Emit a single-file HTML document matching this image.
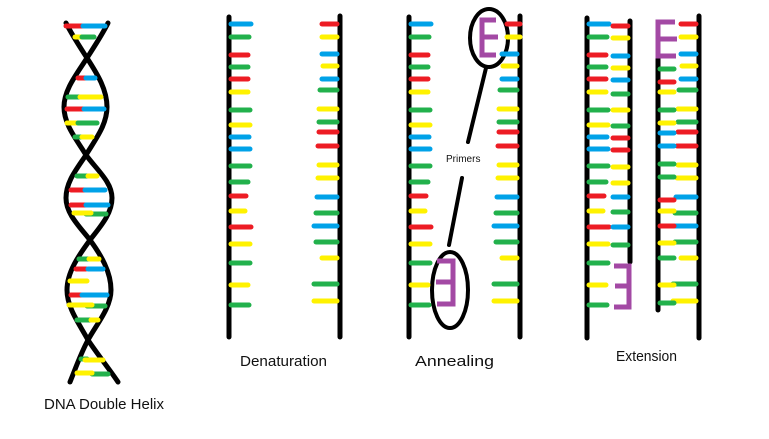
<!DOCTYPE html>
<html><head><meta charset="utf-8"><style>
html,body{margin:0;padding:0;background:#fff;}
svg{display:block;}
text{font-family:"Liberation Sans",sans-serif;fill:#111;}
</style></head><body>
<svg id="s" width="769" height="439" viewBox="0 0 769 439" xmlns="http://www.w3.org/2000/svg">
<g fill="none" stroke="#000" stroke-width="5" stroke-linecap="round">
<path d="M66 23 C72 35 80 47 87 58 C98 75 107 90 107 107 C107 125 95 140 86 155 C76 170 66 182 66 198 C66 214 80 227 90 240 C101 255 111 272 111 290 C111 308 96 325 88 340 C98 355 110 370 118 382"/>
<path d="M108 23 C102 35 94 47 87 58 C76 75 64 90 64 107 C64 125 77 140 86 155 C97 170 112 182 112 198 C112 214 100 227 90 240 C79 255 67 272 67 290 C67 308 80 325 88 340 C80 355 75 370 70 382"/>
<line x1="229" y1="17" x2="229" y2="337"/><line x1="340" y1="16" x2="340" y2="337"/>
<line x1="409" y1="17" x2="409" y2="337"/><line x1="520" y1="16" x2="520" y2="337"/>
<line x1="587" y1="18" x2="587" y2="338"/><line x1="630" y1="21" x2="630" y2="262"/>
<line x1="658" y1="56" x2="658" y2="310"/><line x1="699" y1="16" x2="699" y2="338"/>
<ellipse cx="489" cy="38" rx="19" ry="29" stroke-width="4"/>
<ellipse cx="450" cy="290" rx="18" ry="38" stroke-width="4"/>
<line x1="486" y1="68" x2="468" y2="142" stroke-width="4"/>
<line x1="462" y1="178" x2="449" y2="245" stroke-width="4"/>
</g>
<g id="r" stroke-width="5" stroke-linecap="round" fill="none"></g>
<g stroke="#a349a4" stroke-width="5" stroke-linecap="butt" fill="none">
<path d="M496 20 H482 V55 H496 M482 37 H498"/>
<path d="M437 261 H453 V304 H437 M453 282 H436"/>
<path d="M614 266 H629 V307 H614 M629 286 H615"/>
<path d="M675 22 H658 V56 H676 M658 39 H677"/>
</g>
<text x="446" y="162" font-size="10">Primers</text>
<text x="240" y="366" font-size="15" textLength="87" lengthAdjust="spacingAndGlyphs">Denaturation</text>
<text x="415" y="366" font-size="15" textLength="79" lengthAdjust="spacingAndGlyphs">Annealing</text>
<text x="616" y="361" font-size="15" textLength="61" lengthAdjust="spacingAndGlyphs">Extension</text>
<text x="44" y="409" font-size="15" textLength="120" lengthAdjust="spacingAndGlyphs">DNA Double Helix</text>
</svg>
<script>
var C={r:"#ed1c24",b:"#00a2e8",g:"#22b14c",y:"#fff200"};
var g=document.getElementById("r"),h="";
function L(x1,y,x2,c){h+='<line x1="'+x1+'" y1="'+y+'" x2="'+x2+'" y2="'+y+'" stroke="'+C[c]+'"/>';}
var Ly=[24,37,55,67,79,92,110,125,137,149,166,182,196,211,227,244,263,285,305];
var Lc="bgrgrygybbggryrygyg";
var Lw=[20,18,17,17,17,17,19,19,18,19,19,17,15,14,20,19,19,17,18];
var Ry=[24,37,54,66,79,90,109,122,132,146,165,178,197,213,226,242,258,284,301];
var Rc="rybybgygrryybgbgygy";
var Rw=[16,16,16,15,16,18,19,19,19,20,19,20,21,22,24,22,16,24,24];
[0,180,358].forEach(function(o){for(var i=0;i<19;i++)L(231+o,Ly[i],231+o+Lw[i],Lc[i]);});
[0,180,359].forEach(function(o){for(var i=0;i<19;i++){if(o==180&&i<2){L(523-16,Ry[i],520,Rc[i]);continue;}L(338+o-Rw[i],Ry[i],337+o,Rc[i]);}});
var Ey=[26,38,56,68,80,94,110,126,138,150,167,183,197,212,227,245],Ec="rybybgygrryybgbg";
for(var i=0;i<16;i++)L(613,Ey[i],628,Ec[i]);
var Fy=[69,82,92,110,123,133,146,164,177,200,211,226,243,258,285,303],Fc="grygybbggryrygyg";
for(var i=0;i<16;i++)L(660,Fy[i],674,Fc[i]);
[[66,83,26,"r"],[83,105,26,"b"],[75,82,37,"y"],[82,94,37,"g"],[78,86,78,"r"],[86,95,78,"b"],[68,80,97,"g"],[80,101,97,"y"],[67,84,109,"r"],[84,104,109,"b"],[67,78,123,"y"],[78,97,123,"g"],[75,82,137,"g"],[82,92,137,"y"],[77,88,176,"g"],[88,97,176,"y"],[71,85,190,"r"],[85,105,190,"b"],[71,87,205,"r"],[86,108,205,"b"],[86,106,214,"g"],[74,91,213,"y"],[79,89,259,"g"],[89,99,259,"y"],[76,86,269,"r"],[88,103,269,"b"],[70,87,281,"y"],[71,82,295,"r"],[82,107,295,"b"],[87,105,306,"g"],[69,92,305,"y"],[77,91,320,"g"],[91,98,320,"y"],[81,87,359,"g"],[85,103,360,"y"],[92,108,374,"g"],[77,92,373,"y"]].forEach(function(a){L(a[0],a[2],a[1],a[3]);});
g.innerHTML=h;
</script>
</body></html>
